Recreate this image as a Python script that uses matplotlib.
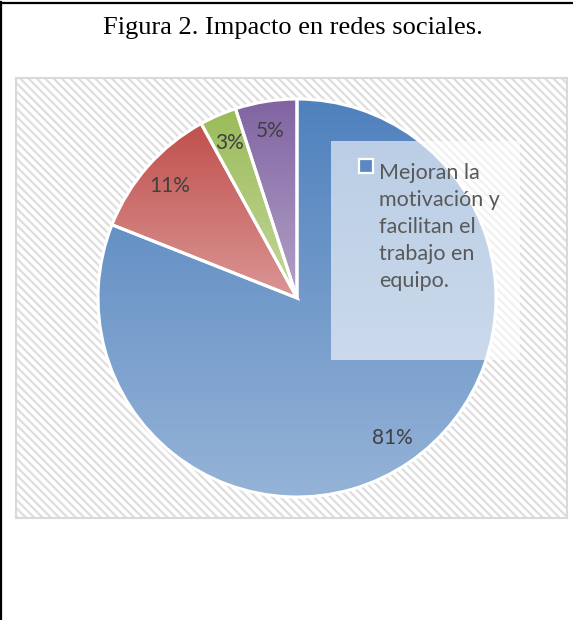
import numpy as np
import matplotlib.pyplot as plt
from matplotlib.patches import Rectangle
from matplotlib.colors import LinearSegmentedColormap

# Data
values = [81, 11, 3, 5]
pct_labels = ["81%", "11%", "3%", "5%"]
legend_label = "Mejoran la\nmotivación y\nfacilitan el\ntrabajo en\nequipo."
top_colors = ["#4F81BD", "#C0504D", "#9BBB59", "#8064A2"]
bottom_colors = ["#95B3D7", "#DA9694", "#C4D79B", "#B3A2C7"]

W, H = 573, 620
fig = plt.figure(figsize=(W / 100, H / 100), dpi=100)

# outer frame (left and top only)
fig.add_artist(plt.Line2D([1.0 / W, 1.0 / W], [0, 1 - 2.0 / H], color="black", lw=1.6))
fig.add_artist(plt.Line2D([0, 1], [1 - 3.0 / H, 1 - 3.0 / H], color="black", lw=1.6))

fig.text(293 / W, 1 - 28 / H, "Figura 2. Impacto en redes sociales.",
         family="Liberation Serif", fontsize=19, ha="center", va="center")

# chart area in pixel-like data units
x0, x1, y0, y1 = 16, 567, 78, 518
ax = fig.add_axes([x0 / W, 1 - y1 / H, (x1 - x0) / W, (y1 - y0) / H])
plt.rcParams["hatch.linewidth"] = 1.6
bg = Rectangle((0, 0), 1, 1, transform=ax.transAxes, facecolor="white",
               hatch="\\" * 4, edgecolor="#DEDEDE", lw=0, zorder=0)
ax.add_patch(bg)

cx, cy, R = 297, H - 298, 199
wedges, texts = ax.pie(values, labels=pct_labels, startangle=90, counterclock=False,
                       radius=R, center=(cx, cy), labeldistance=0.85,
                       wedgeprops=dict(edgecolor="white", linewidth=2.2),
                       textprops=dict(fontsize=15, color="#404040", family="Lato"))
for t in texts:
    t.set_ha("center")
    t.set_va("center")
    t.set_zorder(6)

grad = np.linspace(0, 1, 256).reshape(-1, 1)
for w, ct, cb in zip(wedges, top_colors, bottom_colors):
    w.set_facecolor("none")
    w.set_zorder(3)
    ext = w.get_path().transformed(w.get_patch_transform()).get_extents()
    cmap = LinearSegmentedColormap.from_list("g", [cb, ct])
    im = ax.imshow(grad, cmap=cmap, origin="lower", aspect="auto",
                   extent=[ext.x0, ext.x1, ext.y0, ext.y1], zorder=2)
    im.set_clip_path(w)

ax.set_xlim(x0, x1)
ax.set_ylim(H - y1, H - y0)
ax.set_aspect("auto")
ax.set_frame_on(True)
ax.set_xticks([])
ax.set_yticks([])
for s in ax.spines.values():
    s.set_visible(True)
    s.set_color("#D9D9D9")
    s.set_linewidth(1.5)

# legend box (semi-transparent) with marker and wrapped label
ax.add_patch(Rectangle((331, H - 360), 189, 219, facecolor="white", alpha=0.6,
                       lw=0, zorder=4))
ax.add_patch(Rectangle((359, H - 172.5), 14, 14, facecolor="#5A88C2",
                       edgecolor="white", lw=1.6, zorder=5))
ax.text(379, H - 286.7, legend_label, ha="left", va="baseline", fontsize=15.5,
        family="Lato", color="#595959", linespacing=1.43, zorder=6)

fig.savefig("out.png", dpi=100)
